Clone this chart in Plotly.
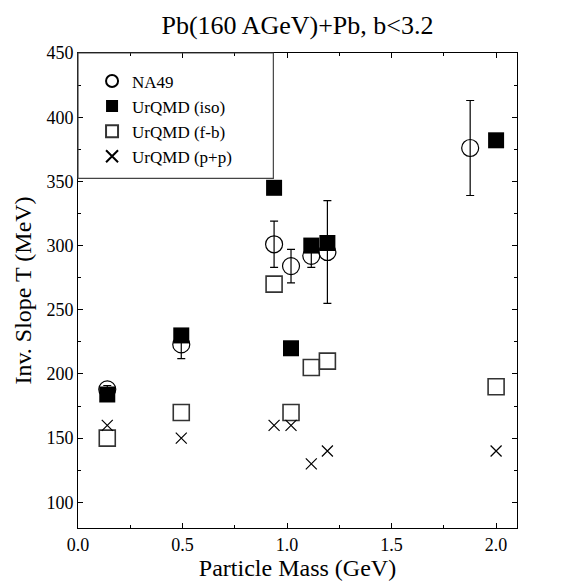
import plotly.graph_objects as go

# NA49 data
na49_mass = [0.14, 0.494, 0.938, 1.019, 1.116, 1.193, 1.876]
na49_T = [188, 223, 301, 284, 292, 295, 376]
na49_err = [3, 11, 18, 13, 9, 40, 37]

# UrQMD (iso)
iso_mass = [0.14, 0.494, 0.938, 1.019, 1.116, 1.193, 2.0]
iso_T = [184, 230, 345, 220, 300, 302, 382]

# UrQMD (f-b)
fb_mass = [0.14, 0.494, 0.938, 1.019, 1.116, 1.193, 2.0]
fb_T = [150, 170, 270, 170, 205, 210, 190]

# UrQMD (p+p)
pp_mass = [0.14, 0.494, 0.938, 1.019, 1.116, 1.193, 2.0]
pp_T = [160, 150, 160, 160, 130, 140, 140]

FONT = "Liberation Serif, Times New Roman, serif"

fig = go.Figure()
fig.add_trace(go.Scatter(
    x=na49_mass, y=na49_T, mode="markers", name="NA49",
    marker=dict(symbol="circle-open", size=17, color="black", line=dict(width=1.2, color="black")),
    error_y=dict(type="data", array=na49_err, visible=True, color="black", thickness=1.2, width=4),
))
fig.add_trace(go.Scatter(
    x=iso_mass, y=iso_T, mode="markers", name="UrQMD (iso)",
    marker=dict(symbol="square", size=16, color="black", line=dict(width=0)),
))
fig.add_trace(go.Scatter(
    x=fb_mass, y=fb_T, mode="markers", name="UrQMD (f-b)",
    marker=dict(symbol="square-open", size=16, color="#333333", line=dict(width=1.6, color="#333333")),
))
fig.add_trace(go.Scatter(
    x=pp_mass, y=pp_T, mode="markers", name="UrQMD (p+p)",
    marker=dict(symbol="x-thin-open", size=11, color="black", line=dict(width=1.2, color="black")),
))

axis_common = dict(
    showline=True, linecolor="black", linewidth=1, mirror="allticks",
    ticks="inside", ticklen=5, tickwidth=1, tickcolor="black",
    showgrid=False, zeroline=False, automargin=False,
    tickfont=dict(family=FONT, size=18, color="black"),
)

fig.update_xaxes(
    range=[0, 2.1], tick0=0, dtick=0.5, tickformat=".1f",
    minor=dict(ticks="inside", dtick=0.25, ticklen=3, tickcolor="black", showgrid=False),
    title=dict(text="Particle Mass (GeV)", font=dict(family=FONT, size=24, color="black"), standoff=0),
    **axis_common,
)
fig.update_yaxes(
    range=[80, 450], tick0=100, dtick=50,
    minor=dict(ticks="inside", dtick=25, ticklen=3, tickcolor="black", showgrid=False),
    title=dict(text="Inv. Slope T (MeV)", font=dict(family=FONT, size=24, color="black"), standoff=8),
    **axis_common,
)

# legend box
fig.add_shape(type="rect", xref="paper", yref="paper", x0=0, x1=0.445, y0=0.736, y1=1,
              line=dict(color="#444444", width=1.2), fillcolor="rgba(0,0,0,0)")

fig.update_layout(
    width=572, height=588,
    margin=dict(l=70, r=63, t=45, b=68),
    paper_bgcolor="white", plot_bgcolor="white",
    font=dict(family=FONT, color="black"),
    title=dict(text="Pb(160 AGeV)+Pb, b<3.2", font=dict(family=FONT, size=26, color="black"),
               x=0.5, xref="paper", xanchor="center", y=1 - 8 / 588, yref="container", yanchor="top"),
    showlegend=True,
    legend=dict(x=0.032, y=0.978, xanchor="left", yanchor="top", bgcolor="rgba(0,0,0,0)",
                borderwidth=0, font=dict(family=FONT, size=17, color="black"),
                tracegroupgap=0, itemsizing="constant"),
)

fig.write_html("out.html")
